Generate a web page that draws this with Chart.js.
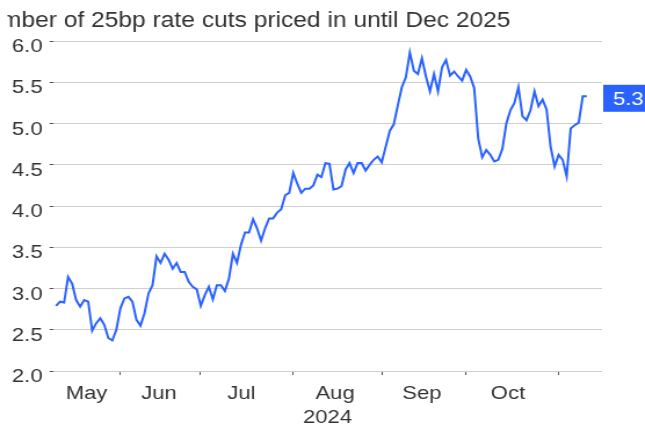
<!DOCTYPE html>
<html>
<head>
<meta charset="utf-8">
<script src="https://cdn.jsdelivr.net/npm/chart.js@4/dist/chart.umd.min.js"></script>
<style>
html, body { margin: 0; padding: 0; background: #fff; overflow: hidden; }
#wrap { width: 556px; height: 428px; transform: scale(1.16, 1); transform-origin: 0 0; }
</style>
</head>
<body>
<div id="wrap"><canvas id="cuts" width="556" height="428"></canvas></div>
<script>
var chartTitle = "Number of 25bp rate cuts priced in until Dec 2025";
var axisYear = "2024";

// business-day series, May 2024 .. early Nov 2024
var cutsPriced = [
	2.79, 2.84, 2.83, 3.14, 3.06, 2.86, 2.78, 2.86, 2.84, 2.49,
	2.58, 2.64, 2.56, 2.40, 2.37, 2.50, 2.76, 2.88, 2.90, 2.84,
	2.62, 2.55, 2.70, 2.94, 3.04, 3.39, 3.31, 3.42, 3.35, 3.24,
	3.31, 3.20, 3.20, 3.08, 3.02, 2.99, 2.79, 2.92, 3.02, 2.87,
	3.04, 3.04, 2.97, 3.12, 3.42, 3.31, 3.53, 3.68, 3.68, 3.84,
	3.73, 3.58, 3.73, 3.85, 3.85, 3.92, 3.96, 4.13, 4.16, 4.40,
	4.27, 4.16, 4.21, 4.21, 4.25, 4.38, 4.35, 4.52, 4.51, 4.20,
	4.21, 4.24, 4.44, 4.52, 4.40, 4.52, 4.52, 4.43, 4.50, 4.56,
	4.60, 4.53, 4.72, 4.91, 4.99, 5.22, 5.44, 5.56, 5.86, 5.64,
	5.60, 5.79, 5.57, 5.39, 5.60, 5.39, 5.68, 5.77, 5.58, 5.63,
	5.57, 5.52, 5.65, 5.57, 5.43, 4.82, 4.59, 4.68, 4.62, 4.54,
	4.56, 4.69, 5.00, 5.16, 5.25, 5.44, 5.09, 5.04, 5.16, 5.39,
	5.21, 5.29, 5.17, 4.72, 4.48, 4.62, 4.56, 4.36, 4.94, 4.98,
	5.01, 5.33, 5.33
];

var monthNames = ["May", "Jun", "Jul", "Aug", "Sep", "Oct"];
var monthLabelAt = [7.6, 25.6, 46.1, 69.4, 91.0, 112.4];
var monthStartAt = [15.9, 35.8, 59.0, 81.1, 102.0, 125.1];
var yTicks = [2.0, 2.5, 3.0, 3.5, 4.0, 4.5, 5.0, 5.5, 6.0];

var blue = "#2962ff";
var textCol = "#333333";

function lastValueTag() {
	return {
		id: 'lastValueTag',
		afterDraw: function(chart) {
			var ctx = chart.ctx;
			var last = cutsPriced[cutsPriced.length - 1];
			var y = chart.scales.y.getPixelForValue(last) + 2;
			var x0 = chart.chartArea.right + 1;
			ctx.save();
			ctx.fillStyle = blue;
			ctx.fillRect(x0, y - 13.5, chart.width - x0, 27);
			ctx.fillStyle = "#fff";
			ctx.font = "19px 'Liberation Sans', Arial, sans-serif";
			ctx.textAlign = "left";
			ctx.textBaseline = "middle";
			ctx.fillText(last.toFixed(1), x0 + 8.5, y + 1);
			ctx.restore();
		}
	};
}

function clippedTitle() {
	return {
		id: 'clippedTitle',
		afterDraw: function(chart) {
			var ctx = chart.ctx;
			ctx.save();
			ctx.font = "21.2px 'Liberation Sans', Arial, sans-serif";
			ctx.fillStyle = textCol;
			ctx.textBaseline = "alphabetic";
			//the left of the title runs off the picture, cut inside the "m"
			ctx.beginPath();
			ctx.rect(6.3, 0, chart.width, 40);
			ctx.clip();
			var shift = ctx.measureText("Nu").width;
			ctx.fillText(chartTitle, 0.8 - shift, 27);
			ctx.restore();
		}
	};
}

window.onload = function() {
	var pts = cutsPriced.map(function(v, i) { return {x: i, y: v}; });
	var monthTicks = [];
	for (var i = 0; i < monthNames.length; i++) {
		monthTicks.push({value: monthLabelAt[i], label: monthNames[i]});
		monthTicks.push({value: monthStartAt[i], label: ""});
	}
	monthTicks.sort(function(a, b) { return a.value - b.value; });

	new Chart(document.getElementById('cuts').getContext('2d'), {
		type: 'line',
		data: {
			datasets: [{
				data: pts,
				borderColor: blue,
				borderWidth: 2,
				pointRadius: 0,
				tension: 0,
				fill: false
			}]
		},
		options: {
			responsive: false,
			animation: false,
			devicePixelRatio: 1,
			layout: { padding: { top: 41, right: 37, left: 0, bottom: 0 } },
			plugins: { legend: { display: false }, tooltip: { enabled: false }, title: { display: false } },
			scales: {
				x: {
					type: 'linear',
					min: -0.75,
					max: 135.8,
					afterBuildTicks: function(scale) {
						scale.ticks = monthTicks.map(function(t) { return {value: t.value}; });
					},
					afterFit: function(scale) { scale.height = 57; },
					grid: {
						drawOnChartArea: false,
						drawTicks: true,
						tickLength: 4,
						tickWidth: 1,
						tickColor: function(c) {
							return (c.tick && monthStartAt.indexOf(c.tick.value) >= 0) ? "#555" : "rgba(0,0,0,0)";
						}
					},
					border: { display: false },
					ticks: {
						autoSkip: false,
						maxRotation: 0,
						padding: 7,
						color: textCol,
						font: { family: "'Liberation Sans', Arial, sans-serif", size: 19 },
						callback: function(v) {
							var k = monthLabelAt.indexOf(v);
							return k >= 0 ? monthNames[k] : "";
						}
					},
					title: {
						display: true,
						text: axisYear,
						color: textCol,
						padding: { top: 0, bottom: -1 },
						font: { family: "'Liberation Sans', Arial, sans-serif", size: 19, lineHeight: 1.2 }
					}
				},
				y: {
					min: 2,
					max: 6,
					afterBuildTicks: function(scale) {
						scale.ticks = yTicks.map(function(v) { return {value: v}; });
					},
					afterFit: function(scale) { scale.width = 45.7; },
					grid: {
						color: "#cfcfcf",
						lineWidth: 1,
						drawTicks: true,
						tickLength: 3,
						tickColor: "#555"
					},
					border: { display: false },
					ticks: {
						padding: 6,
						labelOffset: 6,
						color: textCol,
						font: { family: "'Liberation Sans', Arial, sans-serif", size: 19 },
						callback: function(v) { return v.toFixed(1); }
					}
				}
			}
		},
		plugins: [clippedTitle(), lastValueTag()]
	});
};
</script>
</body>
</html>
